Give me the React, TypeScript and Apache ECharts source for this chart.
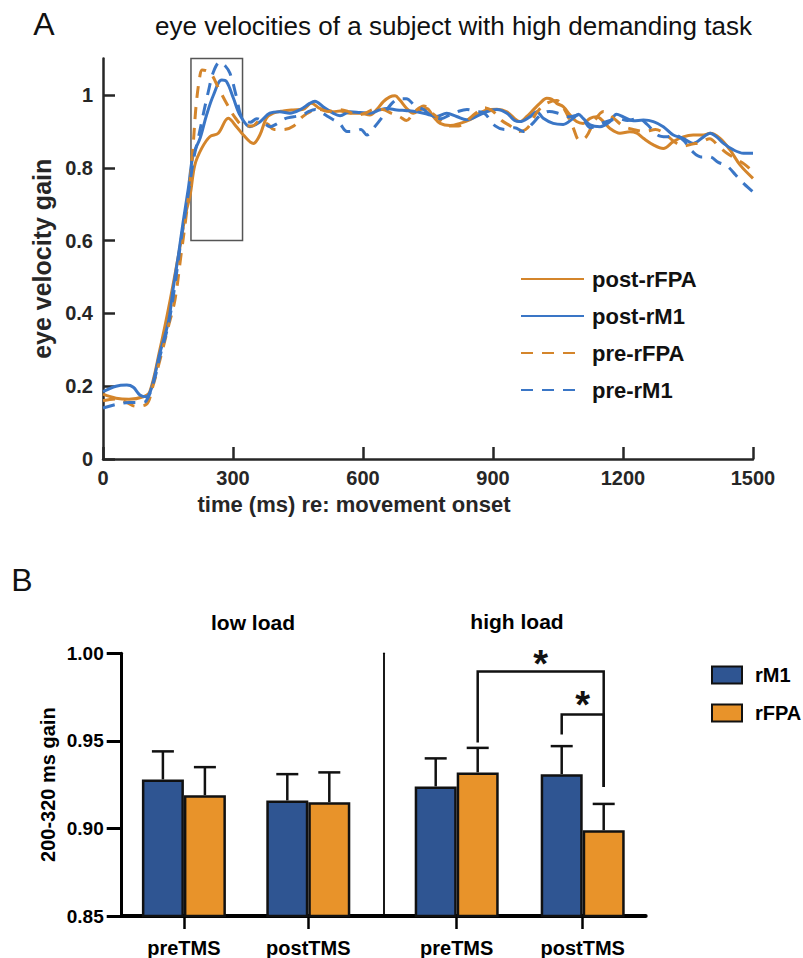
import React, { useEffect, useRef } from "react";
import * as echarts from "echarts";

// ---------- Panel A: eye velocity gain traces ----------
const postRFPA_t = [0, 30, 60, 93, 108, 131, 155, 178, 190, 201, 212, 228, 247, 266, 289, 308, 324, 347, 362, 377, 393, 416, 439, 462, 481, 500, 516, 531, 547, 570, 593, 616, 631, 647, 662, 674, 685, 701, 716, 731, 747, 762, 778, 801, 824, 847, 870, 885, 909, 932, 962, 978, 993, 1008, 1024, 1035, 1047, 1062, 1078, 1093, 1108, 1124, 1139, 1155, 1170, 1193, 1216, 1232, 1247, 1270, 1293, 1316, 1339, 1362, 1386, 1401, 1424, 1447, 1470, 1500];
const postRFPA_v = [0.178, 0.167, 0.164, 0.171, 0.185, 0.299, 0.437, 0.585, 0.67, 0.725, 0.808, 0.854, 0.886, 0.895, 0.936, 0.913, 0.89, 0.867, 0.89, 0.936, 0.95, 0.956, 0.959, 0.961, 0.977, 0.963, 0.959, 0.954, 0.956, 0.95, 0.95, 0.945, 0.959, 0.982, 0.995, 0.998, 0.986, 0.963, 0.95, 0.959, 0.963, 0.941, 0.922, 0.916, 0.922, 0.932, 0.95, 0.959, 0.961, 0.954, 0.927, 0.941, 0.959, 0.977, 0.991, 0.989, 0.977, 0.968, 0.945, 0.927, 0.922, 0.936, 0.94, 0.927, 0.908, 0.895, 0.899, 0.895, 0.881, 0.863, 0.853, 0.872, 0.885, 0.89, 0.89, 0.895, 0.881, 0.849, 0.808, 0.771];

const postRM1_t = [0, 30, 55, 70, 85, 100, 112, 131, 151, 162, 174, 185, 197, 208, 224, 239, 255, 274, 285, 301, 316, 339, 362, 385, 408, 431, 454, 477, 489, 508, 531, 547, 570, 593, 616, 639, 655, 678, 701, 724, 747, 770, 793, 816, 839, 862, 885, 909, 932, 950, 962, 985, 1001, 1016, 1039, 1062, 1085, 1097, 1108, 1124, 1147, 1170, 1185, 1201, 1224, 1247, 1270, 1293, 1316, 1339, 1362, 1386, 1401, 1416, 1432, 1455, 1478, 1500];
const postRM1_v = [0.185, 0.2, 0.203, 0.197, 0.176, 0.171, 0.195, 0.29, 0.377, 0.469, 0.56, 0.652, 0.744, 0.835, 0.881, 0.945, 1.0, 1.041, 1.037, 0.991, 0.945, 0.913, 0.926, 0.95, 0.954, 0.95, 0.959, 0.977, 0.983, 0.968, 0.95, 0.943, 0.954, 0.952, 0.95, 0.959, 0.963, 0.959, 0.957, 0.954, 0.948, 0.941, 0.95, 0.941, 0.932, 0.941, 0.954, 0.96, 0.95, 0.93, 0.927, 0.94, 0.954, 0.936, 0.922, 0.919, 0.936, 0.947, 0.936, 0.918, 0.913, 0.927, 0.947, 0.94, 0.929, 0.931, 0.927, 0.913, 0.89, 0.881, 0.867, 0.885, 0.895, 0.885, 0.867, 0.849, 0.84, 0.84];

const preRFPA_t = [0, 30, 55, 75, 100, 115, 131, 150, 166, 180, 190, 199, 208, 215, 224, 229, 248, 267, 287, 306, 325, 345, 362, 380, 395, 416, 440, 460, 480, 500, 520, 545, 565, 585, 605, 625, 645, 665, 685, 700, 720, 740, 760, 780, 800, 820, 840, 860, 880, 900, 920, 940, 960, 980, 1000, 1020, 1047, 1065, 1085, 1100, 1115, 1135, 1155, 1175, 1200, 1225, 1250, 1275, 1295, 1320, 1340, 1360, 1380, 1400, 1420, 1440, 1460, 1480, 1500];
const preRFPA_v = [0.16, 0.165, 0.155, 0.145, 0.15, 0.2, 0.27, 0.36, 0.437, 0.56, 0.65, 0.74, 0.862, 0.973, 1.055, 1.069, 1.06, 1.018, 0.973, 0.936, 0.915, 0.915, 0.93, 0.92, 0.905, 0.905, 0.915, 0.94, 0.955, 0.96, 0.955, 0.96, 0.955, 0.945, 0.95, 0.96, 0.96, 0.95, 0.94, 0.93, 0.955, 0.97, 0.95, 0.93, 0.915, 0.915, 0.93, 0.95, 0.965, 0.955, 0.93, 0.915, 0.9, 0.91, 0.95, 0.975, 0.985, 0.96, 0.91, 0.875, 0.885, 0.93, 0.955, 0.94, 0.915, 0.905, 0.9, 0.905, 0.895, 0.87, 0.86, 0.865, 0.87, 0.88, 0.86, 0.84, 0.825, 0.81, 0.79];

const preRM1_t = [0, 30, 60, 85, 100, 119, 131, 151, 165, 180, 197, 210, 220, 231, 243, 255, 270, 282, 293, 308, 320, 340, 355, 370, 385, 400, 420, 440, 460, 475, 490, 500, 520, 547, 563, 580, 595, 609, 625, 645, 665, 685, 700, 720, 740, 760, 780, 800, 820, 840, 860, 880, 905, 928, 950, 970, 990, 1010, 1030, 1050, 1075, 1097, 1110, 1125, 1145, 1170, 1190, 1210, 1235, 1255, 1280, 1300, 1320, 1340, 1360, 1380, 1400, 1420, 1440, 1460, 1480, 1500];
const preRM1_v = [0.14, 0.15, 0.155, 0.155, 0.16, 0.22, 0.28, 0.37, 0.47, 0.6, 0.73, 0.83, 0.882, 0.945, 1.009, 1.064, 1.091, 1.08, 1.06, 0.995, 0.94, 0.925, 0.935, 0.925, 0.913, 0.92, 0.935, 0.94, 0.945, 0.955, 0.96, 0.955, 0.94, 0.92, 0.9, 0.9, 0.905, 0.89, 0.91, 0.94, 0.975, 0.99, 0.99, 0.97, 0.96, 0.94, 0.935, 0.945, 0.955, 0.96, 0.955, 0.95, 0.915, 0.905, 0.91, 0.9, 0.92, 0.945, 0.955, 0.95, 0.94, 0.945, 0.93, 0.91, 0.92, 0.93, 0.935, 0.93, 0.935, 0.92, 0.89, 0.885, 0.89, 0.875, 0.845, 0.83, 0.83, 0.815, 0.805, 0.78, 0.755, 0.734];

const seriesNamesA = ["post-rFPA", "post-rM1", "pre-rFPA", "pre-rM1"];
const gainTicks = [0, 0.2, 0.4, 0.6, 0.8, 1];
const zoomBox = { t0: 203, t1: 322, g0: 0.6, g1: 1.1 };

// ---------- Panel B: 200-320 ms gain ----------
const conditions = ["preTMS", "postTMS"];
const rM1Low = [0.928, 0.916];
const rM1LowSem = [0.016, 0.015];
const rFPALow = [0.919, 0.915];
const rFPALowSem = [0.016, 0.017];
const rM1High = [0.924, 0.931];
const rM1HighSem = [0.016, 0.016];
const rFPAHigh = [0.932, 0.899];
const rFPAHighSem = [0.014, 0.015];
// [fromCondition, fromGroup(0 rM1, 1 rFPA), fromY, toCondition, toGroup, toY, bracketTop, starY]
const sigBrackets = [
  [0, 1, 0.949, 1, 1, 0.9236, 0.9896, 0.999],
  [1, 0, 0.9537, 1, 1, 0.9236, 0.965, 0.9754],
];

const ORANGE = "#D4852B";
const BLUE = "#3A76C6";
const BAR_BLUE = "#2F5592";
const BAR_ORANGE = "#E8932A";
const FONT = "Liberation Sans, Arial, sans-serif";
const AX = "#262626";
const BAR_W = 42;

const zip = (t: number[], v: number[]) => t.map((x, i) => [x, v[i]]);

function lineSeries(name: string, t: number[], v: number[], color: string, dashed: boolean, extra: any = {}) {
  return {
    type: "line",
    name,
    xAxisIndex: 0,
    yAxisIndex: 0,
    data: zip(t, v),
    symbol: "none",
    showSymbol: false,
    smooth: 0.35,
    lineStyle: { color, width: 3, type: dashed ? [12, 9] : "solid" },
    itemStyle: { color },
    ...extra,
  };
}

function errorSeries(name: string, xi: number, vals: number[], sems: number[], offset: number) {
  return {
    type: "custom",
    name,
    xAxisIndex: xi,
    yAxisIndex: xi,
    clip: false,
    z: 3,
    data: vals.map((v, i) => [i, v, v + sems[i]]),
    renderItem: (params: any, api: any) => {
      const base = api.coord([api.value(0), api.value(1)]);
      const top = api.coord([api.value(0), api.value(2)]);
      const x = base[0] + offset;
      const st = { stroke: "#111", lineWidth: 2.5 };
      return {
        type: "group",
        children: [
          { type: "line", shape: { x1: x, y1: base[1], x2: x, y2: top[1] }, style: st },
          { type: "line", shape: { x1: x - 11, y1: top[1], x2: x + 11, y2: top[1] }, style: st },
        ],
      };
    },
  };
}

function barSeries(name: string, xi: number, vals: number[], color: string) {
  return {
    type: "bar",
    name,
    xAxisIndex: xi,
    yAxisIndex: xi,
    data: vals,
    barWidth: BAR_W,
    barGap: "0%",
    itemStyle: { color, borderColor: "#111", borderWidth: 2.5 },
  };
}

const bottomX = (gi: number) => ({
  type: "category",
  gridIndex: gi,
  data: conditions,
  axisLine: { show: true, onZero: false, lineStyle: { color: "#000", width: 4 } },
  axisTick: { show: true, alignWithLabel: true, length: 13, lineStyle: { color: "#000", width: 2.5 } },
  axisLabel: { color: "#000", fontSize: 20, fontWeight: "bold", fontFamily: FONT, margin: 22 },
  splitLine: { show: false },
});

const baseGraphic = (axisY: number) => [
  { type: "text", x: 44, y: 24, style: { text: "A", fill: "#111", font: "32px " + FONT, align: "center", verticalAlign: "middle" } },
  {
    type: "text",
    x: 155,
    y: 26,
    style: { text: "eye velocities of a subject with high demanding task", fill: "#111", font: "26px " + FONT, align: "left", verticalAlign: "middle" },
  },
  { type: "text", x: 22, y: 580, style: { text: "B", fill: "#111", font: "32px " + FONT, align: "center", verticalAlign: "middle" } },
  { type: "text", x: 253, y: 622, style: { text: "low load", fill: "#000", font: "bold 21px " + FONT, align: "center", verticalAlign: "middle" } },
  { type: "text", x: 517, y: 621, style: { text: "high load", fill: "#000", font: "bold 21px " + FONT, align: "center", verticalAlign: "middle" } },
  { type: "line", shape: { x1: 369, y1: axisY, x2: 395, y2: axisY }, style: { stroke: "#000", lineWidth: 4 } },
];

export default function App() {
  const ref = useRef<HTMLDivElement>(null);
  useEffect(() => {
    document.body.style.margin = "0";
    const chart = echarts.init(ref.current!, null, { renderer: "svg" });
    const option: any = {
      animation: false,
      backgroundColor: "#fff",
      textStyle: { fontFamily: FONT },
      grid: [
        { left: 103, top: 58.6, width: 650, height: 400.4 },
        { left: 121.7, top: 653.3, width: 248.8, height: 265 },
        { left: 393.7, top: 653.3, width: 252, height: 265 },
      ],
      xAxis: [
        {
          type: "value",
          gridIndex: 0,
          min: 0,
          max: 1500,
          interval: 300,
          axisLine: { show: true, onZero: false, lineStyle: { color: AX, width: 2.5 } },
          axisTick: { show: true, inside: true, length: 12, lineStyle: { color: AX, width: 2.5 } },
          axisLabel: { color: AX, fontSize: 20, fontWeight: "bold", fontFamily: FONT, margin: 9, formatter: (v: number) => String(v) },
          splitLine: { show: false },
          name: "time (ms) re: movement onset",
          nameLocation: "middle",
          nameGap: 34,
          nameTextStyle: { color: AX, fontSize: 22, fontWeight: "bold", fontFamily: FONT, padding: [0, 148, 0, 0] },
        },
        bottomX(1),
        bottomX(2),
      ],
      yAxis: [
        {
          type: "value",
          gridIndex: 0,
          min: 0,
          max: 1.1,
          axisLine: { show: true, onZero: false, lineStyle: { color: AX, width: 2.5 } },
          axisTick: { show: true, inside: true, length: 12, lineStyle: { color: AX, width: 2.5 }, customValues: gainTicks },
          axisLabel: {
            color: AX,
            fontSize: 20,
            fontWeight: "bold",
            fontFamily: FONT,
            margin: 10,
            customValues: gainTicks,
            formatter: (v: number) => String(+v.toFixed(1)),
          },
          splitLine: { show: false },
          name: "eye velocity gain",
          nameLocation: "middle",
          nameGap: 36,
          nameTextStyle: { color: AX, fontSize: 25, fontWeight: "bold", fontFamily: FONT },
        },
        {
          type: "value",
          gridIndex: 1,
          min: 0.85,
          max: 1.0,
          interval: 0.05,
          axisLine: { show: true, onZero: false, lineStyle: { color: "#000", width: 3 } },
          axisTick: { show: true, length: 15, lineStyle: { color: "#000", width: 3 } },
          axisLabel: {
            color: "#000",
            fontSize: 19,
            fontWeight: "bold",
            fontFamily: FONT,
            margin: 18,
            formatter: (v: number) => v.toFixed(2),
          },
          splitLine: { show: false },
          name: "200-320 ms gain",
          nameLocation: "middle",
          nameGap: 64,
          nameTextStyle: { color: "#000", fontSize: 20, fontWeight: "bold", fontFamily: FONT },
        },
        {
          type: "value",
          gridIndex: 2,
          min: 0.85,
          max: 1.0,
          interval: 0.05,
          offset: 9.7,
          axisLine: { show: true, onZero: false, lineStyle: { color: "#000", width: 1.8 } },
          axisTick: { show: false },
          axisLabel: { show: false },
          splitLine: { show: false },
        },
      ],
      legend: [
        {
          data: seriesNamesA,
          orient: "vertical",
          left: 515,
          top: 263,
          itemWidth: 63,
          itemHeight: 3,
          itemGap: 15,
          itemStyle: { opacity: 0 },
          textStyle: { color: "#111", fontSize: 22, fontWeight: "bold", fontFamily: FONT, lineHeight: 22, padding: [0, 0, 0, 3] },
        },
        {
          data: ["rM1", "rFPA"],
          orient: "vertical",
          left: 706,
          top: 659,
          icon: "rect",
          itemWidth: 30,
          itemHeight: 17,
          itemGap: 16,
          textStyle: { color: "#000", fontSize: 20, fontWeight: "bold", fontFamily: FONT, lineHeight: 22, padding: [0, 0, 0, 8] },
        },
      ],
      series: [
        lineSeries(seriesNamesA[0], postRFPA_t, postRFPA_v, ORANGE, false, {
          markArea: {
            silent: true,
            itemStyle: { color: "rgba(0,0,0,0)", borderColor: "#555", borderWidth: 1.5 },
            label: { show: false },
            data: [[{ xAxis: zoomBox.t0, yAxis: zoomBox.g0 }, { xAxis: zoomBox.t1, yAxis: zoomBox.g1 }]],
          },
        }),
        lineSeries(seriesNamesA[1], postRM1_t, postRM1_v, BLUE, false),
        lineSeries(seriesNamesA[2], preRFPA_t, preRFPA_v, ORANGE, true),
        lineSeries(seriesNamesA[3], preRM1_t, preRM1_v, BLUE, true),
        barSeries("rM1", 1, rM1Low, BAR_BLUE),
        barSeries("rFPA", 1, rFPALow, BAR_ORANGE),
        barSeries("rM1", 2, rM1High, BAR_BLUE),
        barSeries("rFPA", 2, rFPAHigh, BAR_ORANGE),
        errorSeries("err-rM1-low", 1, rM1Low, rM1LowSem, -BAR_W / 2),
        errorSeries("err-rFPA-low", 1, rFPALow, rFPALowSem, BAR_W / 2),
        errorSeries("err-rM1-high", 2, rM1High, rM1HighSem, -BAR_W / 2),
        errorSeries("err-rFPA-high", 2, rFPAHigh, rFPAHighSem, BAR_W / 2),
        {
          type: "custom",
          name: "significance",
          xAxisIndex: 2,
          yAxisIndex: 2,
          clip: false,
          z: 4,
          data: sigBrackets,
          renderItem: (params: any, api: any) => {
            const side = (g: number) => (g === 0 ? -BAR_W / 2 : BAR_W / 2);
            const a = api.coord([api.value(0), api.value(2)]);
            const b = api.coord([api.value(3), api.value(5)]);
            const topY = api.coord([api.value(0), api.value(6)])[1];
            const starY = api.coord([api.value(0), api.value(7)])[1];
            const ax = a[0] + side(api.value(1));
            const bx = b[0] + side(api.value(4));
            return {
              type: "group",
              children: [
                {
                  type: "polyline",
                  shape: { points: [[ax, a[1]], [ax, topY], [bx, topY], [bx, b[1]]] },
                  style: { stroke: "#111", lineWidth: 2.5, fill: null },
                },
                {
                  type: "text",
                  x: (ax + bx) / 2,
                  y: starY + 9,
                  style: { text: "*", fill: "#111", font: "bold 38px " + FONT, align: "center", verticalAlign: "middle" },
                },
              ],
            };
          },
        },
      ],
      graphic: baseGraphic(918.3),
    };
    chart.setOption(option);
    const yPix = chart.convertToPixel({ yAxisIndex: 1 }, 0.85) as number;
    if (typeof yPix === "number" && isFinite(yPix)) {
      chart.setOption({ graphic: baseGraphic(yPix) });
    }
    return () => chart.dispose();
  }, []);
  return <div ref={ref} style={{ width: 803, height: 958 }} />;
}
